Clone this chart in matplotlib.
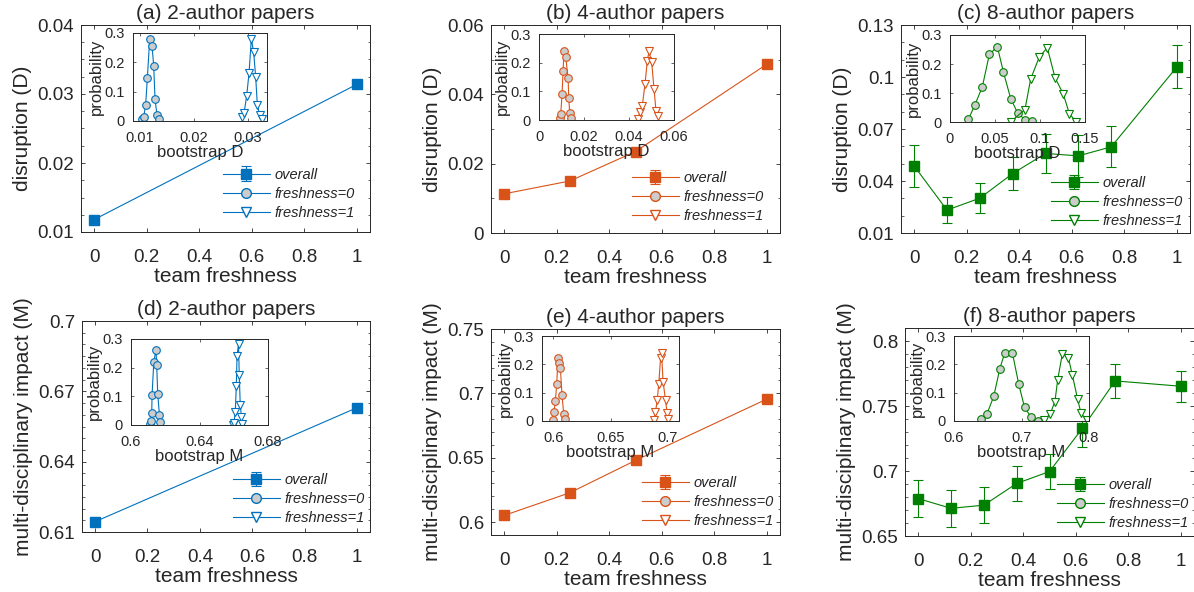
import matplotlib.pyplot as plt
from matplotlib.ticker import FuncFormatter, AutoMinorLocator
from matplotlib.lines import Line2D

plt.rcParams['font.family'] = ['Liberation Sans', 'DejaVu Sans']
plt.rcParams['axes.edgecolor'] = '#262626'
plt.rcParams['axes.linewidth'] = 0.7
plt.rcParams['xtick.color'] = '#262626'
plt.rcParams['ytick.color'] = '#262626'
plt.rcParams['text.color'] = '#262626'
plt.rcParams['axes.labelcolor'] = '#262626'

# ---------- overall values (main panels) ----------
fresh_2 = [0, 1]
fresh_4 = [0, 0.25, 0.5, 1]
fresh_8 = [0, 0.125, 0.25, 0.375, 0.5, 0.625, 0.75, 1]

D_2 = [0.0118, 0.0314]
D_2_err = [0.0002, 0.0002]
D_4 = [0.0113, 0.0150, 0.0235, 0.0487]
D_4_err = [0.0003, 0.0003, 0.0003, 0.0004]
D_8 = [0.0487, 0.0232, 0.0301, 0.0443, 0.0559, 0.0545, 0.0597, 0.1058]
D_8_err = [0.0120, 0.0076, 0.0087, 0.0097, 0.0115, 0.0120, 0.0118, 0.0124]

M_2 = [0.6144, 0.6630]
M_2_err = [0.0004, 0.0004]
M_4 = [0.6052, 0.6228, 0.6479, 0.6956]
M_4_err = [0.0006, 0.0006, 0.0006, 0.0006]
M_8 = [0.6788, 0.6713, 0.6737, 0.6904, 0.6996, 0.7328, 0.7693, 0.7652]
M_8_err = [0.0144, 0.0140, 0.0140, 0.0132, 0.0135, 0.0140, 0.0129, 0.0120]

# ---------- bootstrap distributions (insets) ----------
bD2_f0_x = [0.01037, 0.01067, 0.01104, 0.01135, 0.01179, 0.01222, 0.01253, 0.01277, 0.01314, 0.01351]
bD2_f0_p = [0.006, 0.012, 0.056, 0.145, 0.279, 0.255, 0.189, 0.076, 0.020, 0.007]
bD2_f1_x = [0.02888, 0.02925, 0.02974, 0.03017, 0.03060, 0.03103, 0.03140, 0.03171, 0.03214, 0.03258]
bD2_f1_p = [0.012, 0.026, 0.086, 0.163, 0.279, 0.235, 0.151, 0.056, 0.020, 0.006]

bD4_f0_x = [0.00921, 0.00966, 0.01025, 0.01070, 0.01114, 0.01189, 0.01293, 0.01322, 0.01367, 0.01412]
bD4_f0_p = [0.006, 0.021, 0.090, 0.172, 0.242, 0.219, 0.146, 0.076, 0.023, 0.006]
bD4_f1_x = [0.04383, 0.04487, 0.04591, 0.04710, 0.04814, 0.04889, 0.05007, 0.05111, 0.05200, 0.05290]
bD4_f1_p = [0.002, 0.027, 0.049, 0.125, 0.207, 0.239, 0.202, 0.109, 0.032, 0.015]

bD8_f0_x = [0.0204, 0.0278, 0.0359, 0.0437, 0.0526, 0.0593, 0.0674, 0.0752, 0.0833, 0.0907]
bD8_f0_p = [0.009, 0.060, 0.121, 0.233, 0.260, 0.173, 0.081, 0.031, 0.008, 0.003]
bD8_f1_x = [0.0674, 0.0833, 0.0896, 0.0993, 0.1081, 0.1167, 0.1259, 0.1326, 0.1400]
bD8_f1_p = [0.001, 0.043, 0.148, 0.225, 0.256, 0.153, 0.096, 0.029, 0.001]

bM2_f0_x = [0.6111, 0.6115, 0.6121, 0.6123, 0.6133, 0.6146, 0.6150, 0.6156, 0.6166, 0.6172]
bM2_f0_p = [0.004, 0.013, 0.041, 0.105, 0.219, 0.263, 0.210, 0.109, 0.035, 0.012]
bM2_f1_x = [0.6595, 0.6601, 0.6609, 0.6615, 0.6619, 0.6628, 0.6632, 0.6638, 0.6645, 0.6651]
bM2_f1_p = [0.000, 0.006, 0.047, 0.137, 0.239, 0.284, 0.175, 0.070, 0.027, 0.004]

bM4_f0_x = [0.5996, 0.6005, 0.6017, 0.6029, 0.6040, 0.6049, 0.6061, 0.6075, 0.6090, 0.6099]
bM4_f0_p = [0.005, 0.032, 0.071, 0.130, 0.223, 0.203, 0.188, 0.091, 0.026, 0.008]
bM4_f1_x = [0.6880, 0.6894, 0.6909, 0.6923, 0.6938, 0.6947, 0.6961, 0.6982, 0.6996, 0.7005]
bM4_f1_p = [0.002, 0.032, 0.073, 0.132, 0.221, 0.239, 0.138, 0.073, 0.028, 0.008]

bM8_f0_x = [0.6401, 0.6490, 0.6589, 0.6678, 0.6752, 0.6866, 0.6960, 0.7045, 0.7144, 0.7243]
bM8_f0_p = [0.007, 0.026, 0.087, 0.184, 0.241, 0.239, 0.129, 0.048, 0.013, 0.001]
bM8_f1_x = [0.7337, 0.7426, 0.7495, 0.7535, 0.7604, 0.7693, 0.7752, 0.7832, 0.7881, 0.7965]
bM8_f1_p = [0.002, 0.026, 0.068, 0.144, 0.236, 0.224, 0.164, 0.076, 0.028, 0.002]

BLUE = '#0072BD'
ORANGE = '#D95319'
GREEN = '#008000'
GREY = '#CCCCCC'

W, H = 1194, 592
fig = plt.figure(figsize=(W / 100, H / 100), dpi=100)


def rect(l, t, r, b):
    # pixel box -> figure fraction
    return [l / W, 1 - b / H, (r - l) / W, (b - t) / H]


fmt = FuncFormatter(lambda v, p: f'{round(v, 8):g}')


def panel(box, inbox, x, y, err, f0x, f0p, f1x, f1p, color, title, ylabel,
          ylim, yticks, nminor, inxlim, inxticks, inxlabel, legpos):
    ax = fig.add_axes(rect(*box))
    eb = ax.errorbar(x, y, yerr=err, color=color, marker='s', ms=6.5,
                     mfc=color, mec=color, lw=0.8, elinewidth=0.8,
                     capsize=3.5, capthick=0.8)
    ax.set_xlim(-0.05, 1.05)
    ax.set_xticks([0, 0.2, 0.4, 0.6, 0.8, 1])
    ax.set_ylim(*ylim)
    ax.set_yticks(yticks)
    ax.xaxis.set_major_formatter(fmt)
    ax.yaxis.set_major_formatter(fmt)
    ax.yaxis.set_minor_locator(AutoMinorLocator(nminor))
    ax.tick_params(which='major', direction='in', top=True, right=True,
                   length=3, width=0.6, labelsize=13.5)
    ax.tick_params(axis='x', pad=12.5)
    ax.tick_params(axis='y', pad=5)
    ax.tick_params(which='minor', direction='in', left=True, right=True,
                   length=1.8, width=0.5)
    ax.set_xlabel('team freshness', fontsize=15, labelpad=0.5)
    ax.set_ylabel(ylabel, fontsize=15, labelpad=4)
    ax.set_title(title, fontsize=15, pad=4)

    # legend handles
    h0 = Line2D([], [], color=color, lw=0.8, marker='o', ms=7, mfc=GREY, mec=color)
    h1 = Line2D([], [], color=color, lw=0.8, marker='v', ms=7.5, mfc='white', mec=color)
    ax.legend([eb, h0, h1], ['overall', 'freshness=0', 'freshness=1'],
              loc='center left', bbox_to_anchor=(legpos[0] / W, 1 - legpos[1] / H),
              bbox_transform=fig.transFigure, frameon=False, borderpad=0,
              borderaxespad=0, handlelength=3.2, handletextpad=0.35,
              labelspacing=0.35, prop={'style': 'italic', 'size': 10.5})

    # inset with bootstrap distributions
    ins = fig.add_axes(rect(*inbox))
    ins.plot(f0x, f0p, color=color, lw=0.8, marker='o', ms=5.5, mfc=GREY, mec=color, mew=0.8)
    ins.plot(f1x, f1p, color=color, lw=0.8, marker='v', ms=6, mfc='white', mec=color, mew=0.8)
    ins.set_xlim(*inxlim)
    ins.set_xticks(inxticks)
    ins.set_ylim(0, 0.3)
    ins.set_yticks([0, 0.1, 0.2, 0.3])
    ins.xaxis.set_major_formatter(fmt)
    ins.yaxis.set_major_formatter(fmt)
    ins.tick_params(direction='in', top=True, right=True, length=2.5,
                    width=0.5, labelsize=10.5)
    ins.tick_params(axis='x', pad=7.5)
    ins.tick_params(axis='y', pad=6)
    ins.set_xlabel(inxlabel, fontsize=12, labelpad=0)
    ins.set_ylabel('probability', fontsize=12, labelpad=0.5)
    return ax, ins


panel((81, 25, 370, 232), (133, 33, 267, 121), fresh_2, D_2, D_2_err,
      bD2_f0_x, bD2_f0_p, bD2_f1_x, bD2_f1_p, BLUE,
      '(a) 2-author papers', 'disruption (D)', (0.01, 0.04),
      [0.01, 0.02, 0.03, 0.04], 4, (0.0087, 0.0335), [0.01, 0.02, 0.03],
      'bootstrap D', (223, 194))

panel((491, 25, 780, 233), (539, 34, 674, 120), fresh_4, D_4, D_4_err,
      bD4_f0_x, bD4_f0_p, bD4_f1_x, bD4_f1_p, ORANGE,
      '(b) 4-author papers', 'disruption (D)', (0, 0.06),
      [0, 0.02, 0.04, 0.06], 2, (0, 0.06), [0, 0.02, 0.04, 0.06],
      'bootstrap D', (632, 197))

panel((901, 25, 1190, 233), (950, 35, 1085, 122), fresh_8, D_8, D_8_err,
      bD8_f0_x, bD8_f0_p, bD8_f1_x, bD8_f1_p, GREEN,
      '(c) 8-author papers', 'disruption (D)', (0.01, 0.13),
      [0.01, 0.04, 0.07, 0.1, 0.13], 3, (0, 0.15), [0, 0.05, 0.1, 0.15],
      'bootstrap D', (1051, 202))

panel((82, 321, 370, 532), (131, 339, 268, 425), fresh_2, M_2, M_2_err,
      bM2_f0_x, bM2_f0_p, bM2_f1_x, bM2_f1_p, BLUE,
      '(d) 2-author papers', 'multi-disciplinary impact (M)', (0.61, 0.70),
      [0.61, 0.64, 0.67, 0.7], 6, (0.6, 0.68), [0.6, 0.64, 0.68],
      'bootstrap M', (233, 499))

panel((491, 329, 780, 535), (542, 336, 679, 421), fresh_4, M_4, M_4_err,
      bM4_f0_x, bM4_f0_p, bM4_f1_x, bM4_f1_p, ORANGE,
      '(e) 4-author papers', 'multi-disciplinary impact (M)', (0.59, 0.75),
      [0.6, 0.65, 0.7, 0.75], 5, (0.59, 0.71), [0.6, 0.65, 0.7],
      'bootstrap M', (642, 502))

panel((905, 328, 1194, 536), (954, 336, 1089, 421), fresh_8, M_8, M_8_err,
      bM8_f0_x, bM8_f0_p, bM8_f1_x, bM8_f1_p, GREEN,
      '(f) 8-author papers', 'multi-disciplinary impact (M)', (0.65, 0.81),
      [0.65, 0.7, 0.75, 0.8], 5, (0.6, 0.8), [0.6, 0.7, 0.8],
      'bootstrap M', (1057, 504))

plt.savefig('out.png', dpi=100)
